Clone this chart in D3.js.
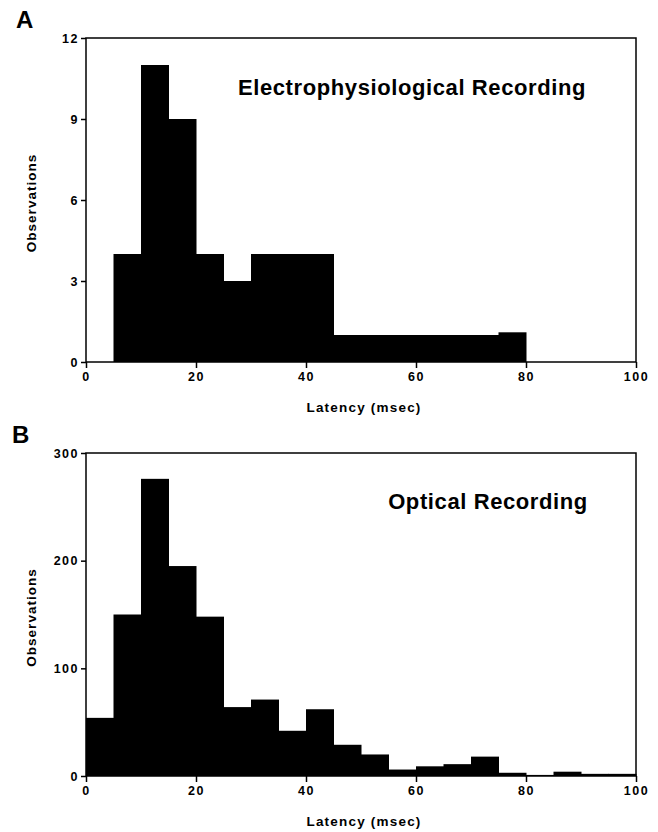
<!DOCTYPE html>
<html>
<head>
<meta charset="utf-8">
<script src="https://cdn.jsdelivr.net/npm/d3@7"></script>
<style>
  body { margin: 0; background: #fff; }
  text { font-family: "Liberation Sans", Arial, sans-serif; font-weight: bold; fill: #000; }
</style>
</head>
<body>
<div id="chart"></div>
<script>
// 5 msec bins, 0-100
const binStarts = [0, 5, 10, 15, 20, 25, 30, 35, 40, 45, 50, 55, 60, 65, 70, 75, 80, 85, 90, 95];
const binWidth = 5;

const electroCounts = [0, 4, 11, 9, 4, 3, 4, 4, 4, 1, 1, 1, 1, 1, 1, 1.1, 0, 0, 0, 0];
const opticalCounts = [54, 150, 276, 195, 148, 64, 71, 42, 62, 29, 20, 6, 9, 11, 18, 3, 1, 4, 2, 2];

const xTicks = [0, 20, 40, 60, 80, 100];
const electroYTicks = [0, 3, 6, 9, 12];
const opticalYTicks = [0, 100, 200, 300];

const svg = d3.select("#chart").append("svg")
  .attr("width", 658)
  .attr("height", 832);

function drawPanel(opts) {
  const x = d3.scaleLinear().domain([0, 100]).range([opts.left, opts.right]);
  const y = d3.scaleLinear().domain([0, opts.yMax]).range([opts.bottom, opts.top]);

  const g = svg.append("g");

  // bars
  const bins = binStarts.map((b, i) => ({ x0: b, x1: b + binWidth, v: opts.counts[i] }));
  g.selectAll("rect.bar")
    .data(bins.filter(d => d.v > 0))
    .join("rect")
    .attr("class", "bar")
    .attr("x", d => x(d.x0))
    .attr("width", d => x(d.x1) - x(d.x0) + 0.5)
    .attr("y", d => y(d.v))
    .attr("height", d => y(0) - y(d.v))
    .attr("fill", "#000");

  // frame
  g.append("rect")
    .attr("x", opts.left)
    .attr("y", opts.top)
    .attr("width", opts.right - opts.left)
    .attr("height", opts.bottom - opts.top)
    .attr("fill", "none")
    .attr("stroke", "#000")
    .attr("stroke-width", 1.5);

  // axes
  const xAxis = g.append("g")
    .attr("transform", `translate(0,${opts.bottom})`)
    .call(d3.axisBottom(x).tickValues(xTicks).tickSize(6).tickPadding(4));
  const yAxis = g.append("g")
    .attr("transform", `translate(${opts.left},0)`)
    .call(d3.axisLeft(y).tickValues(opts.yTicks).tickSize(5).tickPadding(2));

  [xAxis, yAxis].forEach(a => {
    a.select(".domain").remove();
    a.selectAll("line").attr("stroke", "#000").attr("stroke-width", 1.5);
    a.selectAll("text")
      .style("font-family", "'Liberation Sans', Arial, sans-serif")
      .style("font-weight", "bold")
      .style("font-size", "12.5px")
      .style("letter-spacing", "1.5px")
      .attr("fill", "#000");
  });

  // axis titles
  g.append("text")
    .attr("x", (opts.left + opts.right) / 2 + 3)
    .attr("y", opts.bottom + 50)
    .attr("text-anchor", "middle")
    .style("font-size", "13.5px")
    .style("letter-spacing", "1.2px")
    .text("Latency (msec)");

  g.append("text")
    .attr("transform", `translate(${opts.left - 50},${(opts.top + opts.bottom) / 2 + 3}) rotate(-90)`)
    .attr("text-anchor", "middle")
    .style("font-size", "13.5px")
    .style("letter-spacing", "1px")
    .text("Observations");

  // panel title
  g.append("text")
    .attr("x", opts.titleX)
    .attr("y", opts.titleY)
    .attr("text-anchor", "middle")
    .style("font-size", "22px")
    .style("letter-spacing", "0.6px")
    .text(opts.title);

  // panel letter
  svg.append("text")
    .attr("x", opts.letterX)
    .attr("y", opts.letterY)
    .style("font-size", "24px")
    .text(opts.letter);
}

drawPanel({
  counts: electroCounts,
  yMax: 12,
  yTicks: electroYTicks,
  left: 86, right: 636, top: 38, bottom: 362,
  title: "Electrophysiological Recording",
  titleX: 412, titleY: 95,
  letter: "A", letterX: 16, letterY: 28
});

drawPanel({
  counts: opticalCounts,
  yMax: 300,
  yTicks: opticalYTicks,
  left: 86, right: 636, top: 453, bottom: 776,
  title: "Optical Recording",
  titleX: 488, titleY: 509,
  letter: "B", letterX: 12, letterY: 443
});
</script>
</body>
</html>
